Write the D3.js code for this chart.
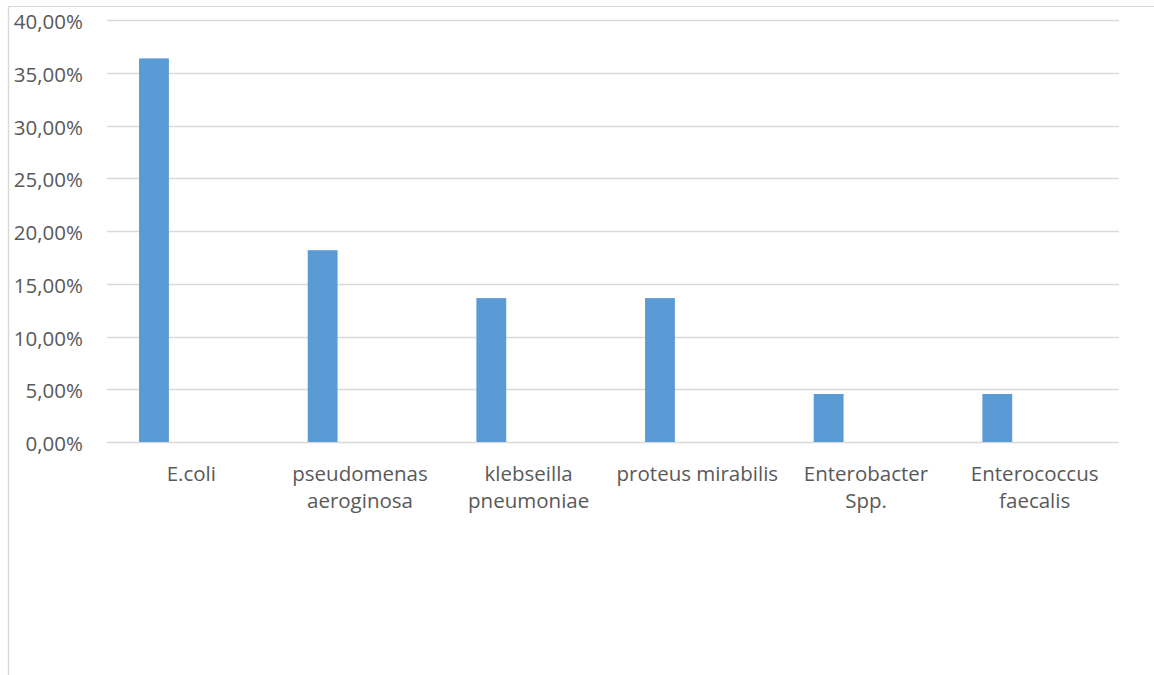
<!DOCTYPE html>
<html>
<head>
<meta charset="utf-8">
<script src="https://cdn.jsdelivr.net/npm/d3@7"></script>
<style>
  html, body { margin: 0; padding: 0; background: #ffffff; }
  svg { display: block; }
  text { font-family: "Open Sans", sans-serif; fill: #595959; }
</style>
</head>
<body>
<svg id="chart" width="1154" height="675"></svg>
<script>
// Bacterial isolates, share of total
const categories = [
  "E.coli",
  "pseudomenas aeroginosa",
  "klebseilla pneumoniae",
  "proteus mirabilis",
  "Enterobacter Spp.",
  "Enterococcus faecalis"
];
const labelLines = [
  ["E.coli"],
  ["pseudomenas", "aeroginosa"],
  ["klebseilla", "pneumoniae"],
  ["proteus mirabilis"],
  ["Enterobacter", "Spp."],
  ["Enterococcus", "faecalis"]
];
const values = [0.3636, 0.1818, 0.1364, 0.1364, 0.0455, 0.0455];
const yTicks = [0, 0.05, 0.10, 0.15, 0.20, 0.25, 0.30, 0.35, 0.40];

const svg = d3.select("#chart");
const W = 1154, H = 675;
const plot = { left: 107, right: 1119, top: 20, bottom: 442 };

// chart frame (only left and top edges fall inside the view)
svg.append("line").attr("x1", 8.5).attr("x2", 8.5).attr("y1", 6).attr("y2", H)
  .attr("stroke", "#d9d9d9").attr("stroke-width", 1.5);
svg.append("line").attr("x1", 8).attr("x2", W).attr("y1", 6.5).attr("y2", 6.5)
  .attr("stroke", "#d9d9d9").attr("stroke-width", 1.2);

const x = d3.scaleBand().domain(categories).range([plot.left, plot.right]).padding(0);
const y = d3.scaleLinear().domain([0, 0.4]).range([plot.bottom, plot.top]);

const locale = d3.formatLocale({ decimal: ",", thousands: ".", grouping: [3], currency: ["", "€"] });
const pct = locale.format(".2%");

// horizontal gridlines
svg.append("g").selectAll("line").data(yTicks).join("line")
  .attr("x1", plot.left).attr("x2", plot.right)
  .attr("y1", d => Math.round(y(d)) + 0.5).attr("y2", d => Math.round(y(d)) + 0.5)
  .attr("stroke", "#d9d9d9").attr("stroke-width", 1.3);

// y tick labels
svg.append("g").selectAll("text").data(yTicks).join("text")
  .attr("x", 83).attr("y", d => y(d) + 1)
  .attr("text-anchor", "end").attr("dominant-baseline", "central")
  .attr("font-size", 20.5)
  .text(d => pct(d));

// bars: first slot of each category group
const barOffset = x.bandwidth() * 0.19;
const barWidth = x.bandwidth() * 0.177;
svg.append("g").selectAll("rect").data(values).join("rect")
  .attr("x", (d, i) => x(categories[i]) + barOffset)
  .attr("width", barWidth)
  .attr("y", d => y(d))
  .attr("height", d => y(0) - y(d))
  .attr("fill", "#5b9bd5");

// category labels
const lab = svg.append("g").selectAll("text").data(labelLines).join("text")
  .attr("text-anchor", "middle").attr("font-size", 20.5)
  .attr("x", (d, i) => x(categories[i]) + x.bandwidth() / 2)
  .attr("y", 481);
lab.selectAll("tspan").data(d => d).join("tspan")
  .attr("x", function () { return d3.select(this.parentNode).attr("x"); })
  .attr("dy", (d, j) => j === 0 ? 0 : 27)
  .text(d => d);
</script>
</body>
</html>
